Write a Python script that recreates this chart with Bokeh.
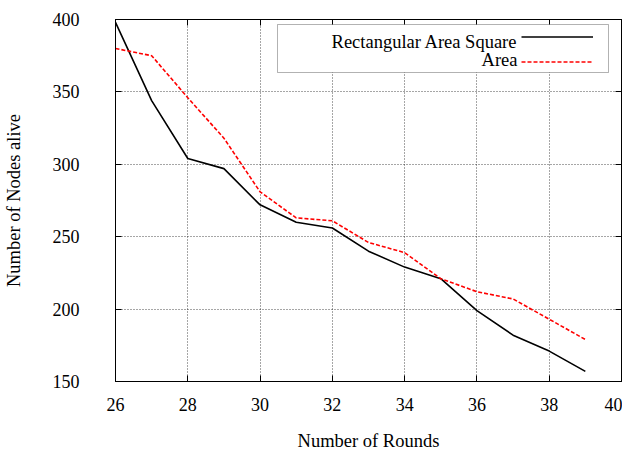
from bokeh.plotting import figure
from bokeh.models import Legend, LegendItem, Label, BoxAnnotation, FixedTicker, LinearAxis
from bokeh.embed import file_html
from bokeh.resources import INLINE

rounds = [26, 27, 28, 29, 30, 31, 32, 33, 34, 35, 36, 37, 38, 39]
rect_area_square = [398, 344, 304, 297, 272, 260, 256, 240, 229, 221, 199, 182, 171, 157]
area = [380, 375, 346, 318, 281, 263, 261, 246, 239, 221, 212, 207, 193, 179]
x_ticks = [26, 28, 30, 32, 34, 36, 38, 40]
y_ticks = [150, 200, 250, 300, 350, 400]
series_names = ["Rectangular Area Square", "Area"]

FONT = "Liberation Serif"

p = figure(width=622, height=453, output_backend="svg", toolbar_location=None,
           x_range=(26, 40), y_range=(150, 400),
           min_border_left=115, min_border_right=1, min_border_top=19, min_border_bottom=71)

p.outline_line_color = "black"
p.outline_line_width = 1
p.background_fill_color = "white"
p.border_fill_color = "white"

r1 = p.line(rounds, rect_area_square, line_color="black", line_width=1.6)
r2 = p.line(rounds, area, line_color="red", line_width=1.6, line_dash="4 2")

# mirror axes (ticks only) on top and right, gnuplot style
top_ax = LinearAxis(ticker=FixedTicker(ticks=x_ticks))
right_ax = LinearAxis(ticker=FixedTicker(ticks=y_ticks))
p.add_layout(top_ax, "above")
p.add_layout(right_ax, "right")

for ax in p.xaxis + p.yaxis:
    ax.major_tick_in = 6
    ax.major_tick_out = 0
    ax.minor_tick_in = 0
    ax.minor_tick_out = 0
    ax.axis_line_color = "black"
    ax.major_tick_line_color = "black"
    ax.major_label_text_font = FONT
    ax.major_label_text_font_size = "18px"
    ax.major_label_text_font_style = "normal"
    ax.major_label_text_color = "black"
    ax.axis_label_text_font = FONT
    ax.axis_label_text_font_size = "18.5px"
    ax.axis_label_text_font_style = "normal"
    ax.axis_label_text_color = "black"

top_ax.major_label_overrides = {t: "" for t in x_ticks}
right_ax.major_label_overrides = {t: "" for t in y_ticks}
for ax in (top_ax, right_ax):
    ax.major_label_text_font_size = "0px"
    ax.major_label_standoff = 0
    ax.axis_label = None

bx = p.below[0]
ly = p.left[0]
bx.ticker = FixedTicker(ticks=x_ticks)
ly.ticker = FixedTicker(ticks=y_ticks)
bx.major_label_standoff = 16
ly.major_label_standoff = 36
bx.axis_label = "Number of Rounds"
ly.axis_label = "Number of Nodes alive"
bx.axis_label_standoff = 17
ly.axis_label_standoff = 26

for g in (p.xgrid[0], p.ygrid[0]):
    g.grid_line_color = "black"
    g.grid_line_alpha = 0.7
    g.grid_line_dash = "1 2"
    g.grid_line_width = 1

# legend box (gnuplot style: text right-aligned, sample line on the right)
box = BoxAnnotation(left=162, right=493, bottom=309, top=357,
                    left_units="screen", right_units="screen",
                    bottom_units="screen", top_units="screen",
                    fill_color="white", fill_alpha=1.0,
                    line_color="black", line_width=1, level="overlay")
p.add_layout(box)

legend = Legend(items=[LegendItem(label=" ", renderers=[r1]),
                       LegendItem(label=" ", renderers=[r2])],
                location=(406, 307), padding=0, margin=0, spacing=0,
                glyph_width=72, glyph_height=25, label_height=25, label_width=1,
                label_text_font_size="1px", border_line_color=None,
                background_fill_alpha=0.0)
p.add_layout(legend)

for name, yy in zip(series_names, [340, 322]):
    p.add_layout(Label(x=402, y=yy, x_units="screen", y_units="screen", text=name,
                       text_align="right", text_baseline="alphabetic",
                       text_font=FONT, text_font_size="18.5px", text_color="black",
                       level="overlay"))

open("out.html", "w").write(file_html(p, INLINE))
